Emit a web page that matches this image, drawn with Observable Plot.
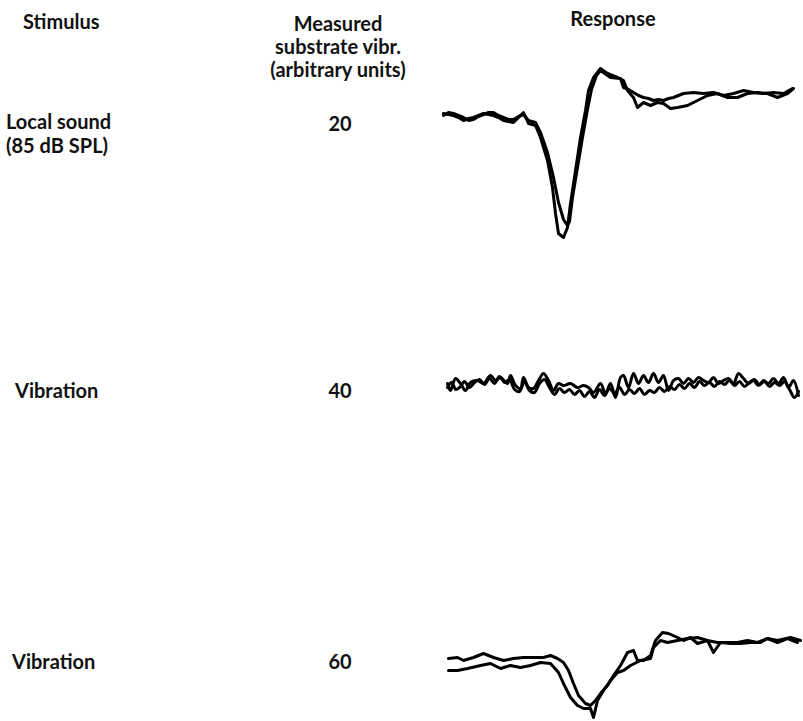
<!DOCTYPE html>
<html>
<head>
<meta charset="utf-8">
<script src="https://cdn.jsdelivr.net/npm/d3@7"></script>
<script src="https://cdn.jsdelivr.net/npm/@observablehq/plot@0.6"></script>
<style>
  html, body { margin: 0; padding: 0; background: #fff; }
  #fig { position: relative; width: 803px; height: 721px; overflow: hidden; font-family: Lato, "Open Sans", sans-serif; font-weight: 700; font-size: 20px; color: #111; }
  .lbl { position: absolute; line-height: 20px; white-space: nowrap; }
  .ctr { text-align: center; width: 200px; }
</style>
</head>
<body>
<div id="fig"></div>
<script>
// ---- text content ----
const headers = ["Stimulus", "Measured", "substrate vibr.", "(arbitrary units)", "Response"];
const stimuli = [["Local sound", "(85 dB SPL)"], ["Vibration"], ["Vibration"]];
const vibration = [20, 40, 60];

// ---- response traces: [time (ms), amplitude (arbitrary, up = positive)] ----
const localA = [[0,4],[1,3],[2,2],[3,0],[4,-3],[5,-1],[6,0],[7,2],[8,4],[9,3],[10,2],[11,0],[12,-3],[13,-4],[14,-5],[15,0],[16,5],[17,-6],[18.4,-8],[19.4,-20],[20.8,-43],[21.8,-70],[22.4,-96],[23,-116],[24,-120],[24.8,-110],[25.4,-86],[26.4,-53],[27.4,-20],[28.4,7],[29,27],[30,40],[31.4,49],[32.8,44],[34.8,40],[36,37],[36.8,27],[38,20],[38.8,10],[40,15],[41.4,12],[42.8,15],[44,14],[45.4,9],[46.8,10],[48.8,12],[50.8,17],[52.8,22],[54.8,24],[56.8,20],[58.8,20],[60.8,24],[62.8,25],[64.8,24],[66.8,20],[68.8,24],[70,29]];
const localB = [[0,2],[1,5],[2,4],[3,2],[4,0],[5,-3],[6,-2],[7,1],[8,3],[9,5],[10,5],[11,2],[12,0],[13,-2],[14,-2],[15,1],[16,3],[17,-3],[18.4,-5],[19.4,-15],[20.8,-35],[22,-60],[23,-85],[24,-102],[24.8,-108],[25.2,-104],[25.8,-80],[26.8,-50],[27.8,-20],[28.8,8],[29.6,28],[30.6,42],[31.4,47],[33.4,40],[35.4,39],[36,30],[37,28],[38,25],[39,22],[40,20],[41,19],[42,17],[43,18],[44,17],[45,19],[46,20],[48,24],[50,25],[52,24],[54,25],[56,22],[58,24],[60,27],[62,25],[64,24],[66,25],[68,24],[69.8,29]];

const vib40A = [[0.8,2],[1.4,-5],[2.4,7],[3.4,2],[4.4,-5],[5.4,3],[6.8,5],[8,2],[9.4,10],[10.4,5],[11.4,8],[12.8,2],[13.4,10],[14.4,0],[15.4,-3],[16,8],[17,-2],[18,-3],[19,5],[20,12],[21,5],[22,-5],[23,2],[24,0],[25.4,2],[26.8,-2],[28,0],[29,-2],[30,-7],[31.4,2],[32.4,-8],[33.4,2],[34.4,-12],[35.4,8],[36,10],[37,-2],[38,12],[39,2],[40,10],[41,3],[42,12],[43,3],[44,10],[45,-5],[46,5],[47,7],[48,2],[49,7],[50,3],[51,8],[52,5],[53,3],[54,8],[55,2],[56,5],[57,7],[58,2],[59,12],[60,7],[61,2],[62,5],[63,0],[64,5],[65,2],[66,7],[67,2],[68,8],[69,-2],[70,5],[71,-10]];
const vib40B = [[0.8,-2],[1.6,3],[2.5,-4],[3.4,-1],[4.2,4],[5.2,-2],[6.2,3],[7.2,6],[8.2,1],[9.2,7],[10.2,2],[11.2,9],[12.2,3],[13.2,6],[14.2,-4],[15.2,-6],[16.2,4],[17.2,-5],[18.2,-7],[19.2,2],[20.2,6],[21.2,-2],[22.2,-9],[23.2,-3],[24.2,-7],[25.2,-4],[26.2,-9],[27.2,-5],[28.2,-11],[29.2,-6],[30.2,-12],[31.2,-4],[32.2,-10],[33.2,-3],[34.2,-8],[35.2,-2],[36.2,-9],[37.2,-4],[38.2,-8],[39.2,-3],[40.2,-9],[41.2,-5],[42.2,-7],[43.2,-2],[44.2,-6],[45.2,-1],[46.2,-4],[47.2,1],[48.2,-3],[49.2,2],[50.2,-2],[51.2,4],[52.2,0],[53.2,3],[54.2,-1],[55.2,4],[56.2,1],[57.2,5],[58.2,0],[59.2,4],[60.2,-1],[61.2,3],[62.2,6],[63.2,1],[64.2,4],[65.2,-1],[66.2,3],[67.2,0],[68.2,4],[69.2,-4],[70.2,-12],[71,-6]];

const vib60A = [[1,6],[2.8,7],[4,4],[6,7],[8,11],[10,7],[12,4],[14,6],[16,7],[18,7],[20,7],[21.4,9],[22.8,6],[24,2],[25,-6],[26,-19],[27,-31],[28.4,-39],[29.4,-41],[30.4,-36],[31.4,-29],[32.8,-21],[34,-11],[35.4,-1],[36.8,12],[38,14],[38.8,4],[40,4],[41.4,9],[42.4,24],[43.8,32],[45,31],[46.8,27],[48,24],[49.4,27],[50.8,21],[52.8,24],[54,12],[55.4,22],[57.4,21],[59.4,21],[61.4,22],[63.4,22],[64.8,26],[66.8,22],[68.8,26],[70.8,22]];
const vib60B = [[1,-6],[2.8,-6],[4.8,-4],[7.4,-1],[9.4,1],[11.4,-4],[13.4,-1],[15.4,-3],[17.4,-1],[19.4,2],[21.4,1],[23,-8],[24,-19],[25.4,-33],[26.8,-41],[28,-44],[29.4,-44],[30,-53],[30.8,-36],[32,-26],[33.4,-16],[34.8,-8],[36,-6],[37.4,-1],[39.4,4],[41.4,6],[42,17],[43.4,24],[44.8,22],[46.8,24],[48.8,26],[50.8,27],[52.8,24],[54.8,22],[56.8,22],[58.8,22],[60.8,24],[62.8,22],[64.8,26],[66.8,24],[69.4,27],[71.4,24]];

const rows = [
  {traces: [localA, localB], yDomain: [-130, 60], top: 57,  curve: "linear"},
  {traces: [vib40A, vib40B], yDomain: [-30, 30],  top: 355, curve: "catmull-rom"},
  {traces: [vib60A, vib60B], yDomain: [-57, 40],  top: 624, curve: "linear"}
];
const timeDomain = [0, 71];

const fig = document.getElementById("fig");
function label(text, left, baseline, cls) {
  const d = document.createElement("div");
  d.className = "lbl" + (cls ? " " + cls : "");
  d.textContent = text;
  d.style.left = left + "px";
  d.style.top = (baseline - 17) + "px";
  fig.appendChild(d);
  return d;
}

// header
label(headers[0], 23, 28);
label(headers[1], 338 - 100, 30, "ctr");
label(headers[2], 338 - 100, 53, "ctr");
label(headers[3], 338 - 100, 76, "ctr");
label(headers[4], 613 - 100, 25, "ctr");

// row labels
const labelLeft = [6, 15, 12];
const labelBase = [128, 397, 668];
stimuli.forEach((lines, i) => {
  lines.forEach((t, j) => label(t, labelLeft[i], labelBase[i] + j * 24));
  label(String(vibration[i]), 340 - 100, labelBase[i] + (i === 0 ? 2 : 0), "ctr");
});

// traces
rows.forEach(r => {
  const h = r.yDomain[1] - r.yDomain[0];
  const marks = r.traces.map(tr => Plot.line(tr, {
    x: d => d[0], y: d => d[1],
    stroke: "#000", strokeWidth: 3, strokeLinejoin: "round", strokeLinecap: "round", curve: r.curve
  }));
  const p = Plot.plot({
    width: 803, height: h,
    marginLeft: 443, marginRight: 5, marginTop: 0, marginBottom: 0,
    x: {domain: timeDomain, axis: null},
    y: {domain: r.yDomain, axis: null},
    style: {background: "transparent", overflow: "visible"},
    marks
  });
  p.style.position = "absolute";
  p.style.top = r.top + "px";
  p.style.left = "0px";
  fig.appendChild(p);
});
</script>
</body>
</html>
